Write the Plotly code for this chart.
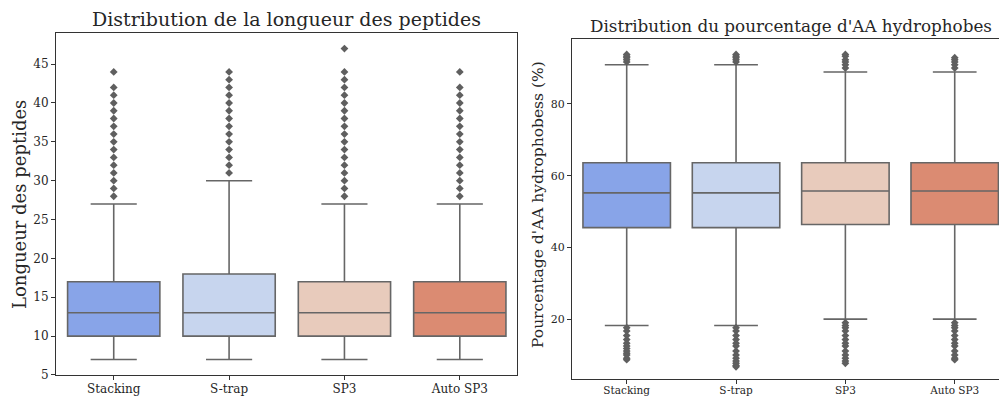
import plotly.graph_objects as go

categories = ["Stacking", "S-trap", "SP3", "Auto SP3"]
colors = ["#88a4e8", "#c7d5ee", "#e8cbbc", "#db8b72"]

# Left panel: peptide length
len_low = [7, 7, 7, 7]
len_q1 = [10, 10, 10, 10]
len_med = [13, 13, 13, 13]
len_q3 = [17, 18, 17, 17]
len_high = [27, 30, 27, 27]
len_outliers = [
    [28, 29, 30, 31, 32, 33, 34, 35, 36, 37, 38, 39, 40, 41, 42, 44],
    [31, 32, 33, 34, 35, 36, 37, 38, 39, 40, 41, 42, 43, 44],
    [28, 29, 30, 31, 32, 33, 34, 35, 36, 37, 38, 39, 40, 41, 42, 43, 44, 47],
    [28, 29, 30, 31, 32, 33, 34, 35, 36, 37, 38, 39, 40, 41, 42, 44],
]

# Right panel: % hydrophobic AA
hyd_low = [18.2, 18.2, 20.0, 20.0]
hyd_q1 = [45.5, 45.5, 46.4, 46.4]
hyd_med = [55.2, 55.2, 55.7, 55.7]
hyd_q3 = [63.6, 63.6, 63.6, 63.6]
hyd_high = [90.9, 90.9, 88.9, 88.9]
hyd_outliers = [
    [8.7, 9.1, 10.0, 10.5, 11.1, 11.8, 12.5, 13.3, 14.3, 15.4, 16.7, 17.6, 91.7, 92.3, 92.9, 93.3, 93.8],
    [6.7, 7.1, 7.7, 8.3, 9.1, 10.0, 11.1, 12.5, 13.3, 14.3, 15.4, 16.7, 17.6, 91.7, 92.3, 92.9, 93.3, 93.8],
    [7.7, 8.3, 9.1, 10.0, 11.1, 12.5, 13.3, 14.3, 15.4, 16.7, 17.6, 18.2, 19.0, 90.0, 90.9, 91.7, 92.3, 93.3, 93.8],
    [8.7, 9.1, 10.0, 11.1, 12.5, 13.3, 14.3, 15.4, 16.7, 17.6, 18.2, 19.0, 90.0, 90.9, 91.7, 92.3, 92.9],
]

LINE = "#666666"
FONT = "DejaVu Serif"

fig = go.Figure()

def add_panel(xa, ya, low, q1, med, q3, high, outl, msize):
    for i, c in enumerate(categories):
        fig.add_trace(go.Box(
            x=[c], q1=[q1[i]], median=[med[i]], q3=[q3[i]],
            lowerfence=[low[i]], upperfence=[high[i]],
            fillcolor=colors[i], line=dict(color=LINE, width=1.6),
            width=0.8, whiskerwidth=0.5, boxpoints=False,
            xaxis=xa, yaxis=ya, showlegend=False, hoverinfo="skip",
        ))
        fig.add_trace(go.Scatter(
            x=[c] * len(outl[i]), y=outl[i], mode="markers",
            marker=dict(symbol="diamond", size=msize, color="#5f5f5f"),
            xaxis=xa, yaxis=ya, showlegend=False, hoverinfo="skip",
        ))

add_panel("x", "y", len_low, len_q1, len_med, len_q3, len_high, len_outliers, 6)
add_panel("x2", "y2", hyd_low, hyd_q1, hyd_med, hyd_q3, hyd_high, hyd_outliers, 6)

axcommon = dict(showgrid=False, zeroline=False, ticks="outside", ticklen=4,
                tickcolor="#333333", linecolor="#333333", linewidth=1.2,
                showline=True, automargin=False)

fig.update_layout(
    width=999, height=398,
    margin=dict(l=0, r=0, t=0, b=0),
    plot_bgcolor="white", paper_bgcolor="white",
    font=dict(family=FONT, color="#262626"),
    boxmode="overlay",
    xaxis=dict(domain=[0.0561, 0.518], range=[-0.5, 3.5], type="category",
               categoryorder="array", categoryarray=categories, ticklabelstandoff=-1,
               mirror=True, tickfont=dict(size=12, family=FONT), **axcommon),
    yaxis=dict(domain=[0.0578, 0.917], range=[5, 49], tickvals=[5, 10, 15, 20, 25, 30, 35, 40, 45],
               mirror=True, tickfont=dict(size=12, family=FONT), **axcommon),
    xaxis2=dict(domain=[0.5726, 1.0], range=[-0.5, 3.405], type="category",
                categoryorder="array", categoryarray=categories, anchor="y2", ticklabelstandoff=-3,
                mirror=True, tickfont=dict(size=10.5, family=FONT), **axcommon),
    yaxis2=dict(domain=[0.0477, 0.902], range=[3.3, 98.1], tickvals=[20, 40, 60, 80],
                anchor="x2", tickfont=dict(size=11, family=FONT), **axcommon),
    annotations=[
        dict(text="Distribution de la longueur des peptides", x=0.287, y=1 - 19 / 398,
             xref="paper", yref="paper", showarrow=False, xanchor="center", yanchor="middle",
             font=dict(size=19, family=FONT, color="#262626")),
        dict(text="Distribution du pourcentage d'AA hydrophobes", x=791 / 999, y=1 - 26 / 398,
             xref="paper", yref="paper", showarrow=False, xanchor="center", yanchor="middle",
             font=dict(size=16.8, family=FONT, color="#262626")),
        dict(text="Longueur des peptides", x=20 / 999, y=1 - 205 / 398, textangle=-90,
             xref="paper", yref="paper", showarrow=False, xanchor="center", yanchor="middle",
             font=dict(size=18, family=FONT, color="#262626")),
        dict(text="Pourcentage d'AA hydrophobess (%)", x=538 / 999, y=1 - 205 / 398, textangle=-90,
             xref="paper", yref="paper", showarrow=False, xanchor="center", yanchor="middle",
             font=dict(size=15.5, family=FONT, color="#262626")),
    ],
)

fig.write_html("out.html", config={"displayModeBar": False},
               post_script="document.body.style.margin='0';document.body.style.padding='0';")
